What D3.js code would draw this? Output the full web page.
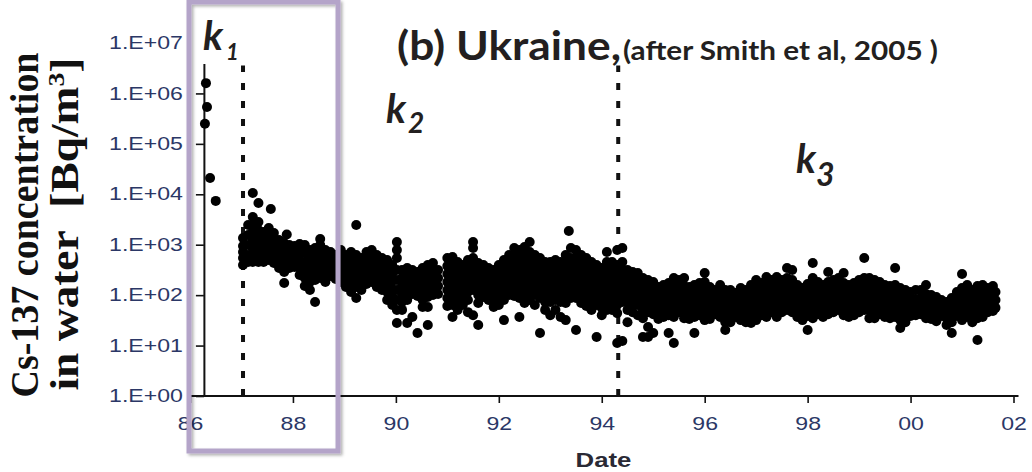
<!DOCTYPE html>
<html>
<head>
<meta charset="utf-8">
<script src="https://cdn.jsdelivr.net/npm/d3@7"></script>
<style>
  html, body { margin: 0; padding: 0; background: #fff; }
  svg { display: block; }
</style>
</head>
<body>
<svg id="chart" width="1032" height="472"></svg>
<script>
// Cs-137 in Ukrainian river water, Bq/m3, grouped by sampling date (decimal year).
// Phase k1: first weeks after the accident
const phase1Samples = [
  [86.29, [2.5e5]], [86.31, [1.6e6]], [86.33, [5.4e5]], [86.39, [2.1e4]], [86.50, [7400]]
];
// Phase k2: 1987 to mid-1994
const phase2Samples = [
  [87.03, [1360, 940, 717, 545, 396]],
  [87.13, [2460, 1560, 990, 625, 454]],
  [87.22, [10600, 3540, 2460, 1790, 1240, 860, 597, 454]],
  [87.33, [6700, 2820, 1960, 1360, 940, 654, 454]],
  [87.43, [1790, 1240, 860, 625, 454]],
  [87.53, [2140, 1490, 1030, 717, 498]],
  [87.57, [5100]],
  [87.63, [1710, 1240, 860, 597, 434]],
  [87.73, [1240, 860, 625, 454, 345]],
  [87.83, [1080, 785, 545, 396, 288, 174]],
  [87.88, [1600]],
  [87.93, [990, 717, 498, 345]],
  [88.03, [940, 685, 498, 361]],
  [88.13, [1030, 717, 498, 345, 251]],
  [88.23, [990, 685, 454, 315, 219, 152]],
  [88.33, [785, 545, 378, 262, 182, 126]],
  [88.43, [860, 597, 414, 288, 200, 73]],
  [88.53, [1300, 990, 654, 454, 315, 219]],
  [88.63, [785, 545, 378, 262, 182]],
  [88.73, [717, 498, 345, 239]],
  [88.83, [625, 434, 301, 209]],
  [88.93, [785, 545, 378, 262, 182]],
  [89.03, [625, 434, 301, 209, 145]],
  [89.13, [717, 498, 345, 239, 166, 115]],
  [89.23, [2460, 625, 434, 301, 209, 145, 88]],
  [89.33, [545, 378, 262, 182, 126]],
  [89.43, [717, 498, 345, 239, 166]],
  [89.53, [785, 545, 378, 262, 182]],
  [89.63, [625, 434, 301, 209, 145]],
  [89.73, [545, 378, 262, 182, 126]],
  [89.83, [498, 345, 239, 166, 115, 80]],
  [89.93, [396, 275, 191, 132, 92, 64]],
  [90.02, [1130, 785, 545, 315, 200, 126, 80, 51, 28]],
  [90.12, [315, 219, 152, 105, 73, 51]],
  [90.22, [345, 239, 166, 115, 80, 28]],
  [90.32, [315, 219, 152, 105, 37]],
  [90.42, [288, 200, 139, 96, 17.7]],
  [90.52, [345, 239, 166, 115, 80, 58]],
  [90.62, [396, 275, 191, 132, 92, 58, 25.6]],
  [90.72, [434, 301, 209, 145, 101]],
  [90.82, [315, 219, 152, 105]],
  [91.0, [545, 378, 262, 182, 126, 88, 61]],
  [91.1, [571, 396, 275, 191, 132, 92, 64, 37]],
  [91.2, [454, 315, 219, 152, 105, 73, 51]],
  [91.3, [396, 275, 191, 132, 92, 64]],
  [91.4, [498, 345, 239, 166, 115, 80, 46]],
  [91.5, [1130, 860, 545, 378, 262, 182, 126, 40]],
  [91.6, [434, 301, 209, 145, 101, 70, 25.6]],
  [91.7, [396, 275, 191, 132, 92]],
  [91.8, [345, 239, 166, 115, 80]],
  [91.9, [315, 219, 152, 105, 73, 58]],
  [92.0, [396, 275, 191, 132, 92, 64]],
  [92.1, [498, 345, 239, 166, 115, 80, 32]],
  [92.2, [625, 434, 301, 209, 145, 101]],
  [92.3, [860, 597, 414, 288, 200, 139, 96]],
  [92.4, [785, 545, 378, 262, 182, 126, 88, 37]],
  [92.5, [900, 625, 434, 301, 209, 145, 101, 70]],
  [92.6, [1130, 717, 498, 345, 239, 166, 115, 80]],
  [92.7, [625, 434, 301, 209, 145, 101, 64]],
  [92.8, [545, 378, 262, 182, 126, 88, 17.7]],
  [92.9, [454, 315, 219, 152, 105, 73, 51]],
  [93.0, [454, 315, 219, 152, 105, 73, 40]],
  [93.1, [498, 345, 239, 166, 115, 80, 51]],
  [93.2, [454, 315, 219, 152, 105, 73, 37]],
  [93.3, [625, 434, 301, 209, 145, 101, 70, 32]],
  [93.36, [1870]],
  [93.4, [860, 545, 378, 262, 182, 126, 88]],
  [93.5, [785, 545, 378, 262, 182, 126, 88, 20.4]],
  [93.6, [625, 434, 301, 209, 145, 101, 70]],
  [93.7, [545, 378, 262, 182, 126, 88, 61]],
  [93.8, [454, 315, 219, 152, 105, 73, 51]],
  [93.9, [396, 275, 191, 132, 92, 64, 14.8]],
  [94.0, [345, 239, 166, 115, 80, 56, 40]],
  [94.1, [717, 454, 315, 219, 152, 105, 73, 51]],
  [94.2, [454, 315, 219, 152, 105, 73, 51]],
  [94.3, [785, 396, 275, 191, 132, 92, 64, 44, 11.2]]
];
// Phase k3: mid-1994 onwards
const phase3Samples = [
  [94.4, [860, 454, 315, 219, 152, 105, 73, 12.3]],
  [94.5, [315, 219, 152, 105, 73, 51, 29]],
  [94.6, [288, 200, 139, 96, 67, 46]],
  [94.7, [275, 191, 132, 92, 64, 40]],
  [94.8, [219, 152, 105, 73, 51, 35, 14.8]],
  [94.9, [200, 139, 96, 67, 46, 23.4, 14.8]],
  [95.0, [182, 126, 88, 61, 42, 17.7]],
  [95.1, [145, 101, 70, 48.5, 33.7]],
  [95.2, [159, 110, 77, 53, 36.9]],
  [95.3, [174, 121, 84, 58, 40, 17.7]],
  [95.4, [219, 159, 110, 77, 53, 36.9, 11.2]],
  [95.5, [200, 139, 96, 67, 46]],
  [95.6, [219, 152, 105, 73, 51, 35]],
  [95.7, [145, 101, 70, 48.5, 33.7]],
  [95.8, [159, 110, 77, 53, 36.9, 17.7]],
  [95.9, [174, 121, 84, 58, 40]],
  [96.0, [275, 182, 126, 88, 61, 42, 32]],
  [96.1, [145, 101, 70, 48.5, 33.7]],
  [96.2, [126, 88, 61, 42]],
  [96.3, [159, 110, 77, 53, 36.9]],
  [96.4, [126, 88, 61, 42, 29, 20.4]],
  [96.5, [126, 88, 61, 42, 29]],
  [96.6, [110, 77, 53, 36.9]],
  [96.7, [139, 96, 67, 46, 32]],
  [96.8, [126, 88, 61, 42, 29]],
  [96.9, [159, 110, 77, 53, 36.9, 28]],
  [97.0, [200, 139, 96, 67, 46, 32]],
  [97.1, [174, 121, 84, 58, 40]],
  [97.2, [229, 159, 110, 77, 53, 36.9]],
  [97.3, [200, 139, 96, 67, 46]],
  [97.4, [229, 159, 110, 77, 53, 36.9]],
  [97.5, [200, 139, 96, 67, 46]],
  [97.6, [345, 219, 152, 105, 73, 51]],
  [97.7, [315, 200, 139, 96, 67, 46]],
  [97.8, [159, 110, 77, 53, 36.9]],
  [97.9, [139, 96, 67, 46, 32]],
  [98.0, [166, 115, 80, 56, 38.6, 20.4]],
  [98.1, [434, 219, 152, 105, 73, 51, 35]],
  [98.2, [182, 126, 88, 61, 42]],
  [98.3, [159, 110, 77, 53, 36.9]],
  [98.4, [288, 182, 126, 88, 61, 42]],
  [98.5, [200, 139, 96, 67, 46]],
  [98.6, [219, 152, 105, 73, 51]],
  [98.7, [275, 174, 121, 84, 58, 40]],
  [98.8, [159, 110, 77, 53, 36.9]],
  [98.9, [174, 121, 84, 58, 40]],
  [99.0, [200, 139, 96, 67, 46]],
  [99.1, [545, 219, 152, 105, 73, 51]],
  [99.2, [219, 152, 105, 73, 51, 35]],
  [99.3, [200, 139, 96, 67, 46, 35]],
  [99.4, [182, 126, 88, 61, 42]],
  [99.5, [159, 110, 77, 53, 36.9]],
  [99.6, [152, 105, 73, 51, 35]],
  [99.7, [345, 159, 110, 77, 53, 36.9]],
  [99.8, [139, 96, 67, 46, 32, 22.3]],
  [99.9, [126, 88, 61, 42, 29]],
  [100.0, [115, 80, 56, 38.6]],
  [100.1, [126, 84, 58, 40]],
  [100.2, [126, 88, 61, 42]],
  [100.3, [159, 105, 73, 51, 35]],
  [100.4, [101, 70, 48.5, 33.7]],
  [100.5, [92, 64, 44, 30.5]],
  [100.6, [80, 56, 38.6]],
  [100.7, [73, 51, 35, 25.6]],
  [100.8, [88, 61, 42, 29, 17.7]],
  [100.9, [115, 80, 56, 38.6]],
  [101.0, [262, 139, 96, 67, 46, 32]],
  [101.1, [159, 110, 77, 53, 36.9]],
  [101.2, [126, 88, 61, 42, 29]],
  [101.3, [152, 105, 73, 51, 35, 12.9]],
  [101.4, [159, 110, 77, 53, 36.9]],
  [101.5, [139, 96, 67, 46]],
  [101.6, [152, 101, 70, 48.5]],
  [101.65, [115, 80, 56]]
];

// Dates separating the three decline phases
const breakDates = [87.03, 94.32];
const phaseNames = ["1", "2", "3"];

const yTickValues = [1, 10, 100, 1e3, 1e4, 1e5, 1e6, 1e7];
const yTickLabels = ["1.E+00", "1.E+01", "1.E+02", "1.E+03", "1.E+04", "1.E+05", "1.E+06", "1.E+07"];
const xTickValues = [86, 88, 90, 92, 94, 96, 98, 100, 102];
const xTickLabels = ["86", "88", "90", "92", "94", "96", "98", "00", "02"];

const svg = d3.select("#chart");
const x = d3.scaleLinear().domain([86, 102]).range([190, 1013.5]);
const y = d3.scaleLog().domain([1, 1e7]).range([396, 43]);
const yAxisDate = 86.27;          // vertical axis sits at the accident date
const labelStretch = 1.32;        // axis lettering is drawn wide
const labelColor = "#2b3766";

const defs = svg.append("defs");
const shadow = defs.append("filter").attr("id", "boxShadow")
  .attr("x", "-5%").attr("y", "-5%").attr("width", "115%").attr("height", "115%");
shadow.append("feDropShadow").attr("dx", 2).attr("dy", 2)
  .attr("stdDeviation", 1.5).attr("flood-color", "#000").attr("flood-opacity", 0.3);

// ---- axes ----
const gx = svg.append("g").attr("transform", "translate(0,396)")
  .call(d3.axisBottom(x).tickValues(xTickValues)
    .tickFormat((d, i) => xTickLabels[i]).tickSize(7).tickSizeOuter(0));
gx.select(".domain").attr("d", `M${x(86)},0H${x(102) + 5}`)
  .attr("stroke", "#111").attr("stroke-width", 2);
gx.selectAll(".tick line").attr("stroke", "#111").attr("stroke-width", 1.6);
gx.selectAll(".tick text")
  .attr("y", 22)
  .attr("transform", `scale(${labelStretch},1)`)
  .attr("fill", labelColor)
  .style("font-family", "'Liberation Sans', Arial, sans-serif")
  .style("font-size", "17.5px");

const gy = svg.append("g").attr("transform", `translate(${x(yAxisDate)},0)`)
  .call(d3.axisLeft(y).tickValues(yTickValues)
    .tickFormat((d, i) => yTickLabels[i]).tickSize(8).tickSizeOuter(0));
gy.select(".domain").attr("stroke", "#111").attr("stroke-width", 2);
gy.selectAll(".tick line").attr("stroke", "#111").attr("stroke-width", 1.6);
gy.selectAll(".tick text")
  .attr("x", -21 / labelStretch)
  .attr("transform", `scale(${labelStretch},1)`)
  .attr("fill", labelColor)
  .style("font-family", "'Liberation Sans', Arial, sans-serif")
  .style("font-size", "17.5px");

// ---- phase boundaries ----
svg.append("g").selectAll("line").data(breakDates).join("line")
  .attr("x1", d => x(d)).attr("x2", d => x(d))
  .attr("y1", y(1)).attr("y2", y(3.6e6))
  .attr("stroke", "#111").attr("stroke-width", 4)
  .attr("stroke-dasharray", "7 11");

// ---- measurements ----
const points = [...phase1Samples, ...phase2Samples, ...phase3Samples]
  .flatMap(([date, values]) => values.map(v => ({ date, value: v })));
svg.append("g").selectAll("circle").data(points).join("circle")
  .attr("cx", d => x(d.date)).attr("cy", d => y(d.value))
  .attr("r", 5).attr("fill", "#000");

// ---- annotations ----
const annoFont = "Lato, 'Open Sans', sans-serif";
svg.append("rect").attr("x", 192).attr("y", 4).attr("width", 58).attr("height", 60).attr("fill", "#fff");

const phaseLabelPos = [
  { x: 203, y: 50, sx: 226, sy: 60, ss: 22 },
  { x: 386, y: 123, sx: 408, sy: 133, ss: 28 },
  { x: 796, y: 173, sx: 816, sy: 186, ss: 32 }
];
phaseNames.forEach((n, i) => {
  const p = phaseLabelPos[i];
  const t = svg.append("text").attr("fill", "#231f20")
    .style("font-family", annoFont).style("font-weight", 700).style("font-style", "italic");
  t.append("tspan").attr("x", p.x).attr("y", p.y).style("font-size", "40px").text("k");
  t.append("tspan").attr("x", p.sx).attr("y", p.sy).style("font-size", p.ss + "px").text(n);
});

svg.append("text").attr("x", 397).attr("y", 60)
  .attr("textLength", 224).attr("lengthAdjust", "spacingAndGlyphs")
  .attr("fill", "#231f20").style("font-family", annoFont).style("font-weight", 700)
  .style("font-size", "40px").text("(b) Ukraine,");
svg.append("text").attr("x", 623).attr("y", 60)
  .attr("textLength", 315).attr("lengthAdjust", "spacingAndGlyphs")
  .attr("fill", "#231f20").style("font-family", annoFont).style("font-weight", 700)
  .style("font-size", "27px").text("(after Smith et al, 2005 )");

// axis titles
svg.append("text").attr("transform", `translate(603.5,467) scale(${labelStretch},1)`)
  .attr("text-anchor", "middle").attr("fill", "#2a2a35")
  .style("font-family", "'Liberation Sans', Arial, sans-serif").style("font-weight", 700)
  .style("font-size", "19.5px").text("Date");

const serif = "'Liberation Serif', 'Times New Roman', serif";
svg.append("text").attr("transform", "translate(38,225) rotate(-90)")
  .attr("text-anchor", "middle").attr("textLength", 345).attr("lengthAdjust", "spacingAndGlyphs")
  .attr("fill", "#111").style("font-family", serif).style("font-weight", 700)
  .style("font-size", "39px").text("Cs-137 concentration");
const t2 = svg.append("text").attr("transform", "translate(78,224) rotate(-90)")
  .attr("text-anchor", "middle").attr("textLength", 333).attr("lengthAdjust", "spacingAndGlyphs")
  .attr("fill", "#111").style("font-family", serif).style("font-weight", 700)
  .style("font-size", "39px").attr("xml:space", "preserve");
t2.append("tspan").text("in water\u00a0\u00a0[Bq/m");
t2.append("tspan").attr("dy", -14).style("font-size", "24px").text("3");
t2.append("tspan").attr("dy", 14).text("]");

// highlight frame around the first phase
svg.append("rect").attr("x", 189).attr("y", 2).attr("width", 149).attr("height", 449)
  .attr("fill", "none").attr("stroke", "#b4a4c9").attr("stroke-width", 5)
  .attr("filter", "url(#boxShadow)");
</script>
</body>
</html>
